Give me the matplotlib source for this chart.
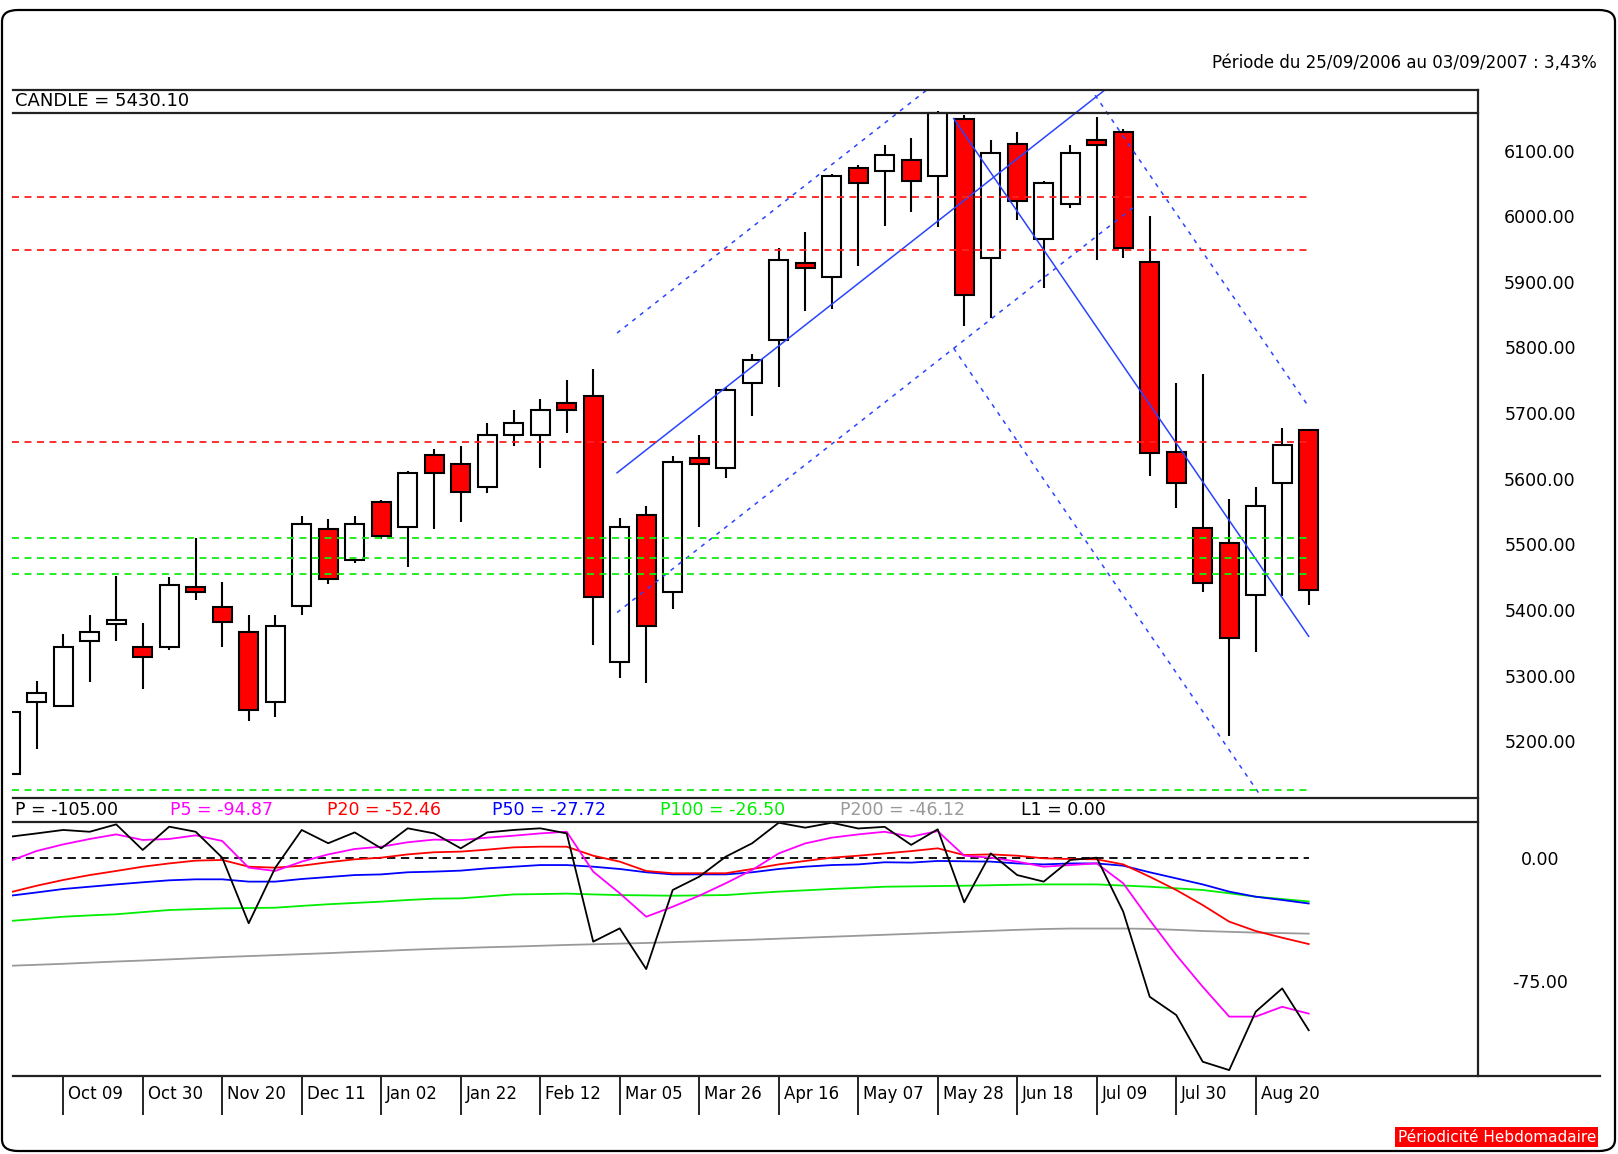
import matplotlib
matplotlib.use('Agg')
import matplotlib.pyplot as plt
import matplotlib.transforms as mtransforms
from matplotlib.lines import Line2D
from matplotlib.patches import Rectangle, FancyBboxPatch

W, H = 1618, 1154

plt.rcParams['font.family'] = ['DejaVu Sans']
plt.rcParams['lines.scale_dashes'] = False

# weekly candles, 25/09/2006 -> 03/09/2007
OPENS = [5150, 5259, 5254, 5353, 5378, 5344, 5343, 5435, 5404, 5366,
         5259, 5406, 5524, 5476, 5565, 5527, 5636, 5622, 5587, 5666,
         5666, 5716, 5726, 5320, 5545, 5428, 5631, 5617, 5746, 5811,
         5929, 5908, 6073, 6069, 6086, 6062, 6149, 5936, 6110, 5966,
         6018, 6116, 6128, 5930, 5641, 5525, 5502, 5422, 5593, 5674]
HIGHS = [5285, 5292, 5364, 5392, 5452, 5380, 5450, 5510, 5442, 5392,
         5392, 5543, 5538, 5543, 5568, 5612, 5645, 5650, 5685, 5704,
         5722, 5751, 5767, 5540, 5559, 5634, 5667, 5740, 5790, 5952,
         5976, 6065, 6078, 6108, 6119, 6160, 6155, 6117, 6128, 6054,
         6109, 6152, 6133, 6001, 5746, 5760, 5569, 5588, 5678, 5674]
LOWS = [5100, 5188, 5252, 5290, 5353, 5280, 5339, 5415, 5343, 5231,
        5237, 5393, 5439, 5471, 5508, 5466, 5524, 5534, 5578, 5650,
        5617, 5669, 5346, 5296, 5288, 5402, 5527, 5601, 5696, 5740,
        5855, 5858, 5924, 5985, 6007, 5984, 5833, 5845, 5995, 5891,
        6013, 5933, 5936, 5604, 5556, 5428, 5208, 5336, 5421, 5408]
CLOSES = [5245, 5273, 5344, 5366, 5385, 5328, 5438, 5428, 5381, 5247,
          5376, 5531, 5447, 5531, 5512, 5609, 5609, 5579, 5667, 5685,
          5705, 5705, 5420, 5527, 5376, 5625, 5622, 5735, 5781, 5933,
          5921, 6061, 6050, 6094, 6054, 6158, 5880, 6097, 6023, 6050,
          6097, 6108, 5952, 5639, 5593, 5441, 5357, 5559, 5652, 5430.10]

RED_LEVELS = [6030, 5949, 5656]
GREEN_LEVELS = [5510, 5479, 5455, 5126]

# trend channels: start week, end week, price at start, slope per week, half width
UP_CHANNEL = (22.9, 42.5, 5609, 31.7, 213)
DOWN_CHANNEL = (35.6, 49.0, 6149, -58.9, 350)

PRICE_TICKS = [6100, 6000, 5900, 5800, 5700, 5600, 5500, 5400, 5300, 5200]

# oscillator
P = [13.0, 15.0, 17.1, 16.0, 20.5, 4.9, 19.1, 16.0, 0.2, -39.8,
     -6.0, 17.1, 9.0, 15.6, 5.9, 18.1, 15.0, 5.9, 15.6, 17.1,
     18.1, 15.0, -51.0, -42.9, -67.7, -19.5, -11.4, 0.8, 9.0, 21.5,
     18.5, 21.5, 18.0, 19.0, 8.0, 17.5, -27.0, 2.8, -10.4, -14.4,
     -1.2, 0.2, -32.7, -84.6, -95.7, -124.2, -129.3, -93.7, -79.5, -105.0]
P5 = [-1.8, 4.3, 8.3, 11.6, 14.4, 11.0, 11.6, 13.8, 10.4, -5.9,
      -7.9, -2.2, 2.2, 5.5, 6.9, 9.6, 11.2, 10.9, 12.4, 13.6,
      15.0, 16.0, -8.3, -21.5, -35.8, -29.7, -23.0, -15.4, -7.3, 2.8,
      8.9, 12.4, 14.4, 16.0, 13.0, 16.4, 1.4, 0.2, -2.2, -5.3,
      -4.3, -3.3, -15.4, -37.8, -59.1, -78.5, -96.7, -96.7, -90.7, -94.87]
P20 = [-20.9, -16.9, -13.4, -10.4, -7.9, -5.3, -3.3, -1.6, -1.2, -5.3,
       -5.9, -4.7, -2.6, -0.8, 0.2, 2.2, 3.5, 3.9, 5.1, 6.5,
       6.9, 6.9, 1.4, -2.2, -7.9, -9.3, -9.3, -9.3, -6.7, -3.9,
       -1.8, 0.2, 1.4, 2.8, 4.2, 5.9, 1.8, 2.2, 1.4, -0.2,
       -0.6, -0.8, -3.9, -11.4, -19.5, -28.7, -38.8, -44.5, -48.6, -52.46]
P50 = [-23.0, -21.0, -18.9, -17.5, -16.1, -14.8, -13.6, -13.0, -13.0, -14.4,
       -14.4, -12.8, -11.6, -10.4, -10.0, -8.7, -8.3, -7.7, -6.3, -5.3,
       -4.3, -4.3, -5.3, -6.7, -8.7, -10.0, -10.0, -10.0, -8.7, -6.7,
       -5.3, -4.3, -3.9, -2.6, -2.8, -1.8, -2.0, -2.2, -3.3, -3.9,
       -3.3, -3.3, -4.7, -8.7, -12.4, -16.1, -20.5, -23.6, -25.6, -27.72]
P100 = [-38.4, -37.1, -35.8, -35.0, -34.3, -33.0, -31.7, -31.2, -30.7, -30.5,
        -30.3, -29.2, -28.2, -27.4, -26.6, -25.6, -24.8, -24.6, -23.4, -22.2,
        -22.0, -21.7, -22.2, -22.6, -22.8, -23.0, -22.8, -22.6, -21.5, -20.5,
        -19.7, -18.9, -18.2, -17.5, -17.3, -17.1, -16.9, -16.6, -16.3, -16.1,
        -16.1, -16.1, -16.8, -17.5, -18.5, -19.5, -21.5, -23.6, -25.0, -26.5]
P200 = [-65.7, -65.1, -64.5, -63.8, -63.1, -62.5, -61.8, -61.1, -60.4, -59.8,
        -59.2, -58.6, -58.0, -57.3, -56.7, -56.0, -55.4, -54.9, -54.4, -54.0,
        -53.5, -53.0, -52.6, -52.2, -51.8, -51.3, -50.8, -50.3, -49.8, -49.2,
        -48.6, -48.0, -47.4, -46.8, -46.2, -45.6, -45.0, -44.4, -43.8, -43.3,
        -43.0, -43.0, -43.0, -43.2, -43.8, -44.5, -45.0, -45.5, -45.8, -46.12]
OSC_TICKS = [0, -75]

SERIES = [('P', P, 'black'), ('P5', P5, '#ff00ff'), ('P20', P20, '#ff0000'),
          ('P50', P50, '#0000ff'), ('P100', P100, '#00ee00'), ('P200', P200, '#999999')]

TICK_WEEKS = [2, 5, 8, 11, 14, 17, 20, 23, 26, 29, 32, 35, 38, 41, 44, 47]
TICK_LABELS = ['Oct 09', 'Oct 30', 'Nov 20', 'Dec 11', 'Jan 02', 'Jan 22', 'Feb 12',
               'Mar 05', 'Mar 26', 'Apr 16', 'May 07', 'May 28', 'Jun 18', 'Jul 09',
               'Jul 30', 'Aug 20']


def fx(x):
    return x / W


def fy(y):
    return 1 - y / H


def draw_candles(ax):
    for i in range(len(OPENS)):
        o, h, l, c = OPENS[i], HIGHS[i], LOWS[i], CLOSES[i]
        ax.vlines(i, l, h, color='black', lw=1.5, zorder=2)
        lo, hi = min(o, c), max(o, c)
        color = 'white' if c >= o else '#ff0000'
        ax.add_patch(Rectangle((i - 0.36, lo), 0.72, max(hi - lo, 4),
                               facecolor=color, edgecolor='black', lw=1.5, zorder=3))


def draw_channel(ax, channel):
    x0, x1, p0, slope, half = channel
    for off, style in [(0, '-'), (half, (0, (3, 4))), (-half, (0, (3, 4)))]:
        ax.plot([x0, x1], [p0 + off, p0 + off + slope * (x1 - x0)],
                color='#2a44ff', lw=1.1, linestyle=style, zorder=4)


fig = plt.figure(figsize=(W / 100, H / 100), dpi=100)

x_left = (12.4 - 10.2) / 26.5
x_right = (1478 - 10.2) / 26.5
last = len(CLOSES) - 1

# price panel
ax_p = fig.add_axes([fx(12.4), fy(798), fx(1478) - fx(12.4), fy(89.8) - fy(798)])
ax_p.set_xlim(x_left, x_right)
ax_p.set_ylim(5113.3, 6192.8)
draw_candles(ax_p)
ax_p.hlines(RED_LEVELS, x_left, last, colors='#ff2020', lw=1.3, linestyles=[(0, (5, 4))], zorder=5)
ax_p.hlines(GREEN_LEVELS, x_left, last, colors='#10ee10', lw=1.3, linestyles=[(0, (5, 4))], zorder=5)
draw_channel(ax_p, UP_CHANNEL)
draw_channel(ax_p, DOWN_CHANNEL)
ax_p.set_xticks([])
ax_p.yaxis.tick_right()
ax_p.set_yticks(PRICE_TICKS)
ax_p.set_yticklabels(['%.2f' % t for t in PRICE_TICKS], fontsize=12.5, ha='center')
ax_p.tick_params(axis='y', length=0, pad=44.6)
for s in ax_p.spines.values():
    s.set_visible(False)

# oscillator panel
ax_o = fig.add_axes([fx(12.4), fy(1076), fx(1478) - fx(12.4), fy(822) - fy(1076)])
ax_o.set_xlim(x_left, x_right)
ax_o.set_ylim(-132.9, 21.95)
ax_o.hlines(0, x_left, last, colors='black', lw=1.3, linestyles=[(0, (6, 4))])
weeks = list(range(len(P)))
for name, values, color in reversed(SERIES):
    ax_o.plot(weeks, values, color=color, lw=1.3)
ax_o.yaxis.tick_right()
ax_o.set_yticks(OSC_TICKS)
ax_o.set_yticklabels(['%.2f' % t for t in OSC_TICKS], fontsize=12.5, ha='center')
ax_o.tick_params(axis='y', length=0, pad=44.6)
ax_o.set_xticks(TICK_WEEKS)
ax_o.set_xticklabels([])
ax_o.tick_params(axis='x', direction='out', length=28, width=1.2, color='black')
for s in ax_o.spines.values():
    s.set_visible(False)

shift = mtransforms.ScaledTranslation(5 / 100, 0, fig.dpi_scale_trans)
trans = mtransforms.blended_transform_factory(ax_o.transData, ax_o.transAxes) + shift
for wk, lab in zip(TICK_WEEKS, TICK_LABELS):
    ax_o.text(wk, -0.071, lab, transform=trans, ha='left', va='center', fontsize=12)

# frame lines
frame = [((13, 1478), (89.8, 89.8)), ((13, 1478), (113, 113)), ((13, 1478), (798, 798)),
         ((13, 1478), (822, 822)), ((13, 1600), (1076, 1076)), ((1478, 1478), (89.8, 1076))]
for xs, ys in frame:
    fig.add_artist(Line2D([fx(xs[0]), fx(xs[1])], [fy(ys[0]), fy(ys[1])],
                          color='#222222', lw=1.6))

fig.add_artist(FancyBboxPatch((fx(2), fy(1151)), fx(1615) - fx(2), fy(10) - fy(1151),
                              boxstyle='round,pad=0,rounding_size=0.01',
                              transform=fig.transFigure, fill=False,
                              edgecolor='black', lw=1.6))

# texts
fig.text(fx(1597), fy(63), 'Période du 25/09/2006 au 03/09/2007 : 3,43%',
         ha='right', va='center', fontsize=12)
fig.text(fx(15), fy(101.5), 'CANDLE = %.2f' % CLOSES[-1], ha='left', va='center', fontsize=13)

legend_x = [14.6, 170, 327, 491.6, 660, 840]
for (name, values, color), lx in zip(SERIES, legend_x):
    fig.text(fx(lx), fy(810), '%s = %.2f' % (name, values[-1]), color=color,
             ha='left', va='center', fontsize=12.5)
fig.text(fx(1021), fy(810), 'L1 = 0.00', color='black', ha='left', va='center', fontsize=12.5)

fig.text(fx(1596), fy(1137), 'Périodicité Hebdomadaire', ha='right', va='center',
         color='white', fontsize=11,
         bbox=dict(facecolor='#ff0000', edgecolor='none', pad=1.5))

fig.savefig('out.png', dpi=100)
